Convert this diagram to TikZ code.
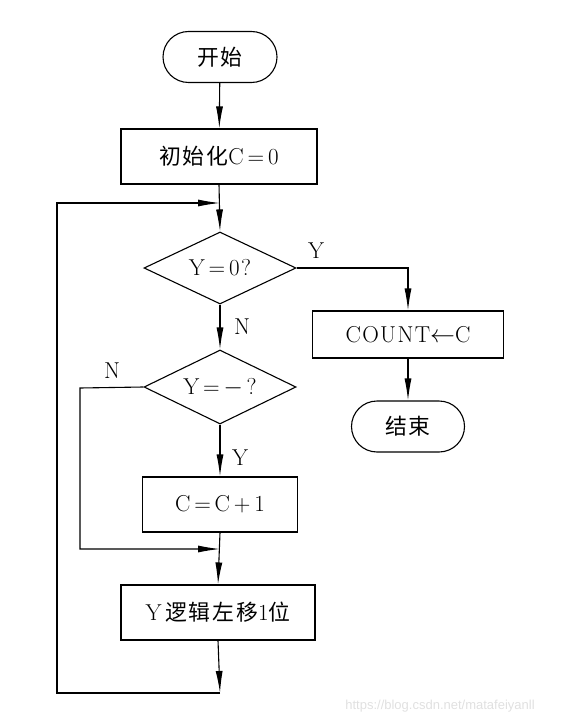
\documentclass[tikz,border=0pt]{standalone}
\usepackage{fontspec}
\setmainfont{Latin Modern Roman}[LetterSpace=6]
\newfontfamily\cjk{Noto Sans CJK SC}[Scale=0.95,LetterSpace=8]
\newfontfamily\wm{Liberation Sans}
\usetikzlibrary{shapes.geometric,shapes.misc,arrows.meta}
\begin{document}
\begin{tikzpicture}[x=1pt,y=-1pt,
  every node/.style={font=\fontsize{23}{27}\selectfont},
  box/.style={draw,line width=1.1pt,rectangle,inner sep=0pt},
  term/.style={draw,line width=1.1pt,rounded rectangle,inner sep=0pt},
  dia/.style={draw,line width=1.1pt,diamond,aspect=2.1,inner sep=0pt},
  arr/.style={line width=1.1pt,-{Latex[length=22pt,width=7pt]}},
  lbl/.style={inner sep=0pt}]
\useasboundingbox (0,0) rectangle (563,719);
\node[term,minimum width=114pt,minimum height=51pt] (start) at (220,57) {\cjk 开始};
\node[box,minimum width=196pt,minimum height=55pt] (init) at (219,156.5) {{\cjk 初始化}C\,=\,0};
\node[dia,minimum width=152pt,minimum height=72pt] (d1) at (220,268) {Y\,=\,0?};
\node[box,minimum width=191pt,minimum height=47pt] (count) at (408,334.5) {COUNT$\leftarrow$C};
\node[term,minimum width=113pt,minimum height=51pt] (end) at (408,426.5) {\cjk 结束};
\node[dia,minimum width=152pt,minimum height=74pt] (d2) at (220,387) {Y\,=\,$-$\,?};
\node[box,minimum width=155pt,minimum height=55pt] (inc) at (220,504.5) {C\,=\,C\,+\,1};
\node[box,minimum width=194pt,minimum height=55pt] (shift) at (218,612.5) {Y\,{\cjk 逻辑左移}1{\cjk 位}};
\coordinate (j1) at (220,203);
\coordinate (j2) at (220,549);
\coordinate (br) at (220,693);
\coordinate (bl) at (57,693);
\coordinate (tl) at (57,203);
\coordinate (nl) at (80,388);
\coordinate (nb) at (80,549);
\coordinate (cr) at (408,268);
\draw[arr] (start) -- (init);
\draw[arr] (init.south) -- (d1.north);
\draw[arr] (d1.east) -- (cr) -- (count.north);
\draw[arr] (count) -- (end);
\draw[arr] (d1.south) -- (d2.north);
\draw[arr] (d2.south) -- (inc.north);
\draw[arr] (inc.south) -- (shift.north);
\draw[arr] (d2.west) -- (nl) -- (nb) -- (j2);
\draw[arr] (shift.south) -- (br);
\draw[arr] (br) -- (bl) -- (tl) -- (j1);
\node[lbl] (y1) at (316,251) {Y};
\node[lbl] (n1) at (242,327) {N};
\node[lbl] (n2) at (112,371) {N};
\node[lbl] (y2) at (240,458) {Y};
\node[lbl,font=\wm\fontsize{13}{15}\selectfont,text=black!12] (wmark) at (440,706) {https://blog.csdn.net/matafeiyanll};
\end{tikzpicture}
\end{document}
